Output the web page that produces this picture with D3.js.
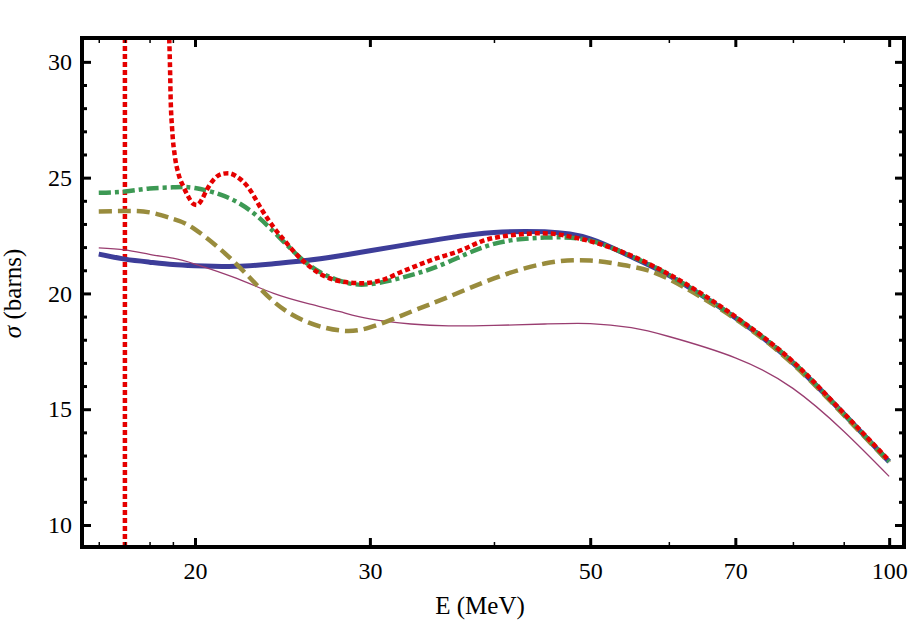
<!DOCTYPE html>
<html>
<head>
<meta charset="utf-8">
<script src="https://cdn.jsdelivr.net/npm/d3@7"></script>
<style>
  body { margin: 0; background: #fff; }
  svg text { font-family: "Liberation Serif", "Times New Roman", Times, serif !important; fill: #000; }
</style>
</head>
<body>
<svg id="chart" width="913" height="628"></svg>
<script>
// energies (MeV) shared by the four smooth curves
var energy = [16, 17, 18, 19, 20, 22, 24, 26, 28, 30, 33, 36, 40, 45, 50, 55, 60, 70, 80, 90, 100];
var sigmaBlue   = [21.70, 21.48, 21.35, 21.25, 21.20, 21.17, 21.28, 21.43, 21.63, 21.84, 22.14, 22.40, 22.63, 22.66, 22.36, 21.58, 20.78, 18.95, 17.00, 14.80, 12.73];
var sigmaPurple = [21.97, 21.88, 21.69, 21.52, 21.27, 20.66, 20.00, 19.56, 19.21, 18.90, 18.68, 18.60, 18.62, 18.68, 18.70, 18.52, 18.14, 17.22, 15.90, 14.05, 12.10];
var sigmaOlive  = [23.54, 23.56, 23.50, 23.22, 22.77, 21.28, 19.65, 18.75, 18.40, 18.53, 19.21, 19.85, 20.65, 21.29, 21.42, 21.16, 20.62, 18.90, 16.95, 14.75, 12.70];
var sigmaGreen  = [24.35, 24.40, 24.53, 24.58, 24.55, 23.97, 22.67, 21.26, 20.54, 20.40, 20.79, 21.36, 22.14, 22.41, 22.28, 21.60, 20.80, 18.97, 17.03, 14.80, 12.75];

// red curve has a pole at 17 MeV and comes back down from above
var redPole = 17;
var redEnergy = [18.8, 18.84, 18.87, 18.9, 18.97, 19.09, 19.24, 19.47, 19.69, 19.92, 20.08, 20.31, 20.55, 20.87, 21.28, 21.61, 22.03, 22.6, 23.36, 24.11, 24.5, 25.63, 26.85, 28.12, 29.46, 30.87, 32.32, 34.65, 37.15, 38.92, 42.0, 44.73, 49.08, 55, 60, 70, 80, 90, 100];
var sigmaRed  = [32.4, 31.0, 29.94, 28.5, 27.06, 25.91, 25.19, 24.61, 24.18, 23.87, 23.82, 24.04, 24.47, 24.9, 25.16, 25.19, 25.05, 24.61, 23.6, 22.74, 22.38, 21.45, 20.8, 20.51, 20.44, 20.58, 20.94, 21.45, 21.88, 22.26, 22.53, 22.6, 22.34, 21.63, 20.83, 19.0, 17.06, 14.83, 12.78];

var xMajor = [20, 30, 50, 70, 100];
var xMinor = [16, 17, 18, 19, 40, 60, 80, 90];
var yMajor = [10, 15, 20, 25, 30];
var yMinor = [11, 12, 13, 14, 16, 17, 18, 19, 21, 22, 23, 24, 26, 27, 28, 29];

(function () {
  var svg = d3.select("#chart"),
    left = 82, right = 904, top = 38, bottom = 547,
    serif = "'Liberation Serif', 'Times New Roman', Times, serif";

  var x = d3.scaleLog().domain([15.39, 103.5]).range([left, right]);
  var y = d3.scaleLinear().domain([9.05, 31.03]).range([bottom, top]);

  svg.append("defs").append("clipPath").attr("id", "plot")
    .append("rect")
      .attr("x", left).attr("y", top)
      .attr("width", right - left).attr("height", bottom - top);

  function lineWith(curve) {
    return d3.line()
      .x(function (d) { return x(d[0]); })
      .y(function (d) { return y(d[1]); })
      .curve(curve);
  }
  var smooth = lineWith(d3.curveNatural),
    mono = lineWith(d3.curveMonotoneX),
    straight = lineWith(d3.curveLinear);

  function pairs(xs, ys) {
    return xs.map(function (v, i) { return [v, ys[i]]; });
  }

  var series = [
    {values: pairs(energy, sigmaBlue),   color: "#3d3d99", width: 5,   dash: null,       line: smooth},
    {values: pairs(energy, sigmaPurple), color: "#993d70", width: 1.3, dash: null,       line: smooth},
    {values: pairs(energy, sigmaOlive),  color: "#998c3d", width: 4.5, dash: "13,6",     line: smooth},
    {values: pairs(energy, sigmaGreen),  color: "#3d9954", width: 4.5, dash: "12,4,4,4", line: smooth},
    {values: pairs(redEnergy, sigmaRed), color: "#e50000", width: 4.5, dash: "5,3",      line: mono}
  ];

  var gData = svg.append("g").attr("clip-path", "url(#plot)");

  // vertical pole segment of the red curve
  gData.append("path")
    .attr("d", straight([[redPole, y.domain()[0]], [redPole, y.domain()[1]]]))
    .attr("fill", "none")
    .attr("stroke", "#e50000")
    .attr("stroke-width", 4.5)
    .attr("stroke-dasharray", "5,3");

  gData.selectAll(".curve")
    .data(series)
    .enter().append("path")
      .attr("class", "curve")
      .attr("d", function (d) { return d.line(d.values); })
      .attr("fill", "none")
      .attr("stroke", function (d) { return d.color; })
      .attr("stroke-width", function (d) { return d.width; })
      .attr("stroke-dasharray", function (d) { return d.dash; });

  function styleAxis(sel, w) {
    sel.attr("font-family", serif);
    sel.select(".domain").remove();
    sel.selectAll("line").attr("stroke", "#000").attr("stroke-width", w);
    sel.selectAll("text").style("font-size", "24px").style("font-family", serif);
  }

  // major and minor ticks on all four sides, pointing inwards
  svg.append("g").attr("transform", "translate(0," + bottom + ")")
    .call(d3.axisBottom(x).tickValues(xMajor).tickFormat(d3.format("d")).tickSize(-9).tickPadding(15))
    .call(styleAxis, 3);
  svg.append("g").attr("transform", "translate(0," + bottom + ")")
    .call(d3.axisBottom(x).tickValues(xMinor).tickFormat("").tickSize(-5))
    .call(styleAxis, 1.5);
  svg.append("g").attr("transform", "translate(0," + top + ")")
    .call(d3.axisTop(x).tickValues(xMajor).tickFormat("").tickSize(-9))
    .call(styleAxis, 3);
  svg.append("g").attr("transform", "translate(0," + top + ")")
    .call(d3.axisTop(x).tickValues(xMinor).tickFormat("").tickSize(-5))
    .call(styleAxis, 1.5);

  svg.append("g").attr("transform", "translate(" + left + ",0)")
    .call(d3.axisLeft(y).tickValues(yMajor).tickFormat(d3.format("d")).tickSize(-9).tickPadding(10))
    .call(styleAxis, 3);
  svg.append("g").attr("transform", "translate(" + left + ",0)")
    .call(d3.axisLeft(y).tickValues(yMinor).tickFormat("").tickSize(-5))
    .call(styleAxis, 3);
  svg.append("g").attr("transform", "translate(" + right + ",0)")
    .call(d3.axisRight(y).tickValues(yMajor).tickFormat("").tickSize(-9))
    .call(styleAxis, 3);
  svg.append("g").attr("transform", "translate(" + right + ",0)")
    .call(d3.axisRight(y).tickValues(yMinor).tickFormat("").tickSize(-5))
    .call(styleAxis, 3);

  // frame
  svg.append("rect")
    .attr("x", left).attr("y", top)
    .attr("width", right - left).attr("height", bottom - top)
    .attr("fill", "none")
    .attr("stroke", "#000")
    .attr("stroke-width", 4);

  svg.append("text")
    .attr("x", (left + right) / 2 - 13)
    .attr("y", 614)
    .attr("text-anchor", "middle")
    .style("font-family", serif)
    .style("font-size", "25px")
    .text("E (MeV)");

  svg.append("text")
    .attr("transform", "translate(21," + y(20) + ") rotate(-90)")
    .attr("text-anchor", "middle")
    .style("font-family", serif)
    .style("font-size", "25px")
    .html('<tspan font-style="italic">σ</tspan> (barns)');
})();
</script>
</body>
</html>
